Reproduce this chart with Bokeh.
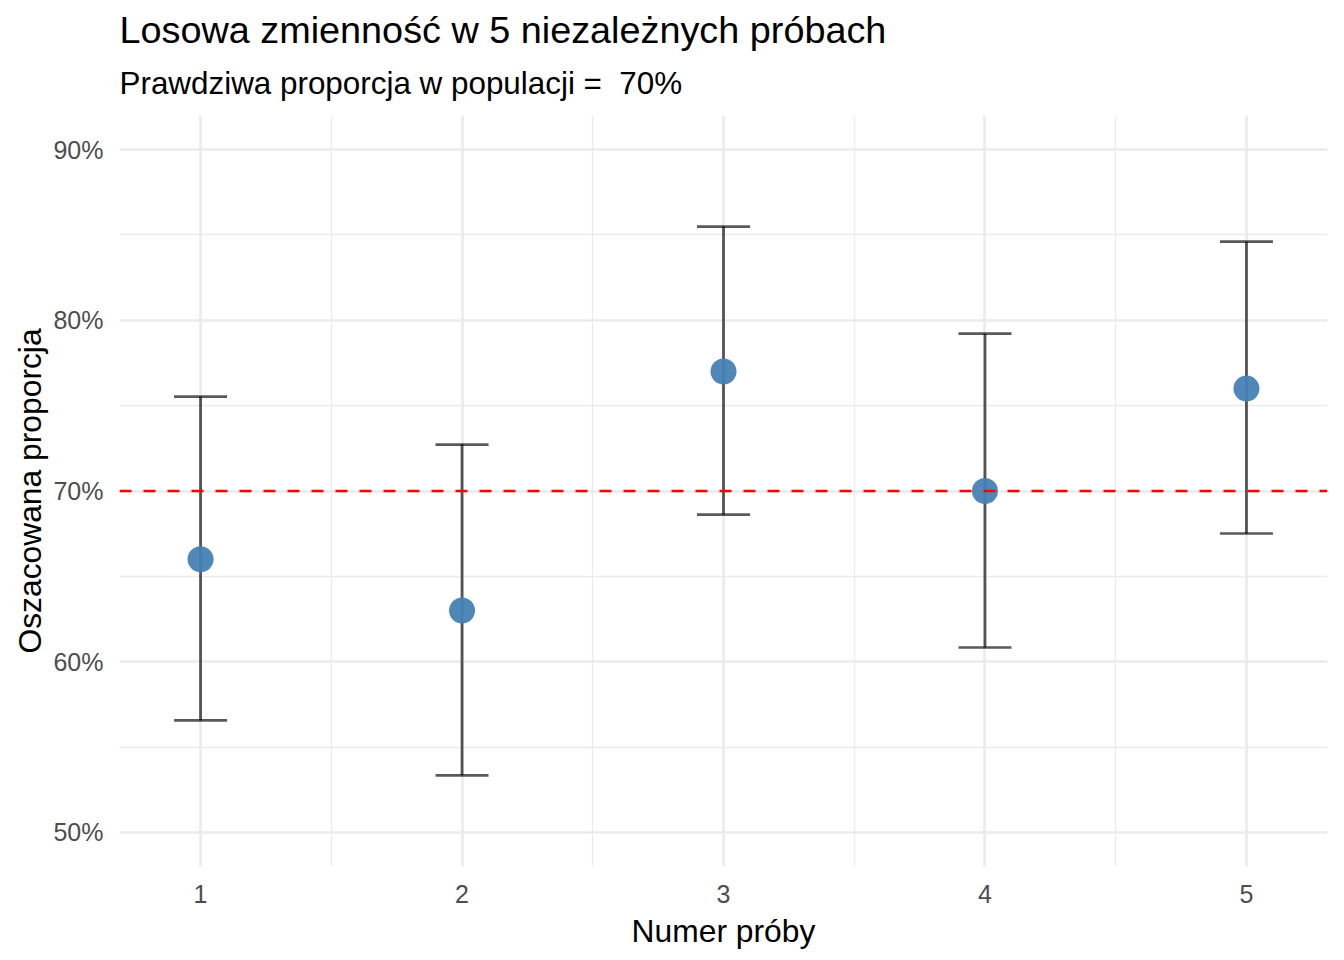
from bokeh.plotting import figure
from bokeh.models import (ColumnDataSource, Whisker, Span, Title, FixedTicker,
                          NumeralTickFormatter, Range1d, TeeHead)
from bokeh.embed import file_html
from bokeh.resources import INLINE

# ---- data ----
trial = [1, 2, 3, 4, 5]
estimate = [0.66, 0.63, 0.77, 0.70, 0.76]
ci_lower = [0.5656, 0.5334, 0.6862, 0.6083, 0.6751]
ci_upper = [0.7553, 0.7272, 0.8549, 0.7922, 0.8461]
true_p = 0.70
y_ticks = [0.5, 0.6, 0.7, 0.8, 0.9]
y_minor = [0.55, 0.65, 0.75, 0.85]
x_ticks = [1, 2, 3, 4, 5]
x_minor = [1.5, 2.5, 3.5, 4.5]

title_text = "Losowa zmienność w 5 niezależnych próbach"
subtitle_text = "Prawdziwa proporcja w populacji =\u00a0 70%"
x_title = "Numer próby"
y_title = "Oszacowana proporcja"

FONT = "Liberation Sans"

src = ColumnDataSource(dict(x=trial, y=estimate, lo=ci_lower, hi=ci_upper))

p = figure(width=1344, height=960, output_backend="svg", toolbar_location=None,
           x_range=Range1d(0.69, 5.31), y_range=Range1d(0.48, 0.92),
           min_border_left=119, min_border_right=17, min_border_top=115,
           min_border_bottom=94)
p.outline_line_color = None
p.background_fill_color = "white"
p.border_fill_color = "white"

# grids
for g in (p.xgrid, p.ygrid):
    g.grid_line_color = "#EBEBEB"
    g.grid_line_width = 2.7
    g.minor_grid_line_color = "#EBEBEB"
    g.minor_grid_line_width = 1.35

p.xaxis.ticker = FixedTicker(ticks=x_ticks, minor_ticks=x_minor)
p.yaxis.ticker = FixedTicker(ticks=y_ticks, minor_ticks=y_minor)
p.yaxis.formatter = NumeralTickFormatter(format="0%")

for ax in (p.xaxis, p.yaxis):
    ax.axis_line_color = None
    ax.major_tick_line_color = None
    ax.minor_tick_line_color = None
    ax.major_tick_out = 0
    ax.minor_tick_out = 0
    ax.major_label_text_font = FONT
    ax.major_label_text_font_size = "25px"
    ax.major_label_text_color = "#4D4D4D"
    ax.axis_label_text_font = FONT
    ax.axis_label_text_font_size = "31.8px"
    ax.axis_label_text_color = "black"
    ax.axis_label_text_font_style = "normal"

p.xaxis.axis_label = x_title
p.yaxis.axis_label = y_title
p.xaxis.major_label_standoff = 18
p.xaxis.axis_label_standoff = 7
p.yaxis.major_label_standoff = 16
p.yaxis.axis_label_standoff = 2

# points
p.scatter("x", "y", source=src, size=26, fill_color="#4682B4", fill_alpha=0.95,
          line_color=None)

# error bars
w = Whisker(source=src, base="x", upper="hi", lower="lo", dimension="height",
            line_color="black", line_alpha=0.65, line_width=2.8,
            upper_head=TeeHead(size=53, line_color="black", line_alpha=0.65, line_width=2.7),
            lower_head=TeeHead(size=53, line_color="black", line_alpha=0.65, line_width=2.7))
p.add_layout(w)

# true proportion line
p.add_layout(Span(location=true_p, dimension="width", line_color="#FF0000",
                  line_width=2.6, line_dash="12 12"))

# titles (subtitle nearest the frame, main title above it)
p.add_layout(Title(text=subtitle_text, text_font=FONT, text_font_size="31.4px",
                   text_font_style="normal", text_color="black", align="left",
                   standoff=29), "above")
p.add_layout(Title(text=title_text, text_font=FONT, text_font_size="37.8px",
                   text_font_style="normal", text_color="black", align="left",
                   standoff=-2), "above")

open("out.html", "w").write(file_html(p, INLINE))
